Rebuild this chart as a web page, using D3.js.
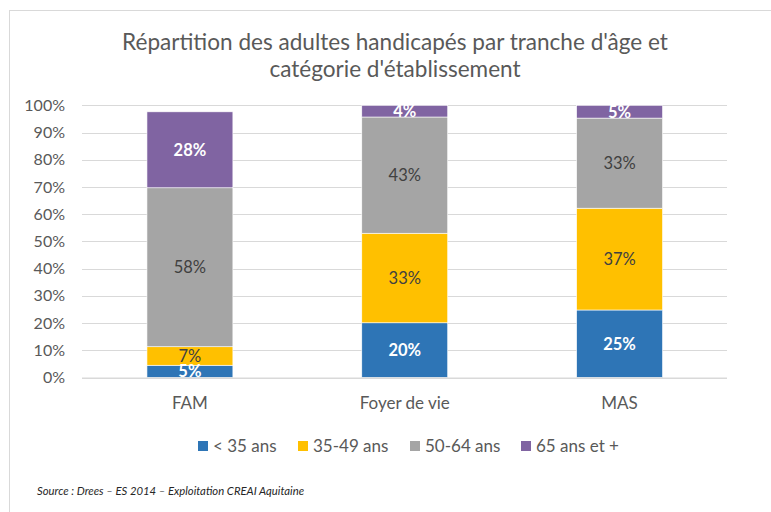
<!DOCTYPE html>
<html><head><meta charset="utf-8">
<script src="https://cdn.jsdelivr.net/npm/d3@7"></script>
<style>body{margin:0;background:#fff}svg{display:block}text{font-family:Lato,"Open Sans",sans-serif}</style>
</head><body>
<svg id="c" width="771" height="512"></svg>
<script>
const categories = ["FAM", "Foyer de vie", "MAS"];
const seriesNames = ["< 35 ans", "35-49 ans", "50-64 ans", "65 ans et +"];
const under35 = [4.5, 20.1, 24.8];
const age35_49 = [6.8, 32.9, 37.4];
const age50_64 = [58.4, 42.7, 33.1];
const over65 = [27.9, 4.3, 4.7];
const yTicks = [0, 10, 20, 30, 40, 50, 60, 70, 80, 90, 100];
const colors = ["#2e75b6", "#ffc000", "#a5a5a5", "#8064a2"];
const labelColors = ["#ffffff", "#404040", "#404040", "#ffffff"];
const labelWeights = ["bold", "normal", "normal", "bold"];
const titleLines = ["Répartition des adultes handicapés par tranche d'âge et", "catégorie d'établissement"];
const source = "Source : Drees – ES 2014 – Exploitation CREAI Aquitaine";

const series = [under35, age35_49, age50_64, over65];
const table = categories.map((c, i) => {
  const o = {cat: c};
  seriesNames.forEach((s, j) => o[s] = series[j][i]);
  return o;
});
const stacked = d3.stack().keys(seriesNames)(table);

const svg = d3.select("#c");
svg.append("rect").attr("x", 9.5).attr("y", 10.5).attr("width", 780).attr("height", 520)
  .attr("fill", "none").attr("stroke", "#d9d9d9").attr("stroke-width", 1);

function fit(sel, w) {
  const n = sel.node();
  let fs = parseFloat(sel.attr("font-size"));
  const cur = n.getComputedTextLength();
  sel.attr("font-size", (fs * w / cur).toFixed(2));
}

const t1 = svg.append("text").attr("x", 395).attr("y", 50).attr("text-anchor", "middle")
  .attr("font-size", 21).attr("fill", "#595959").text(titleLines[0]);
fit(t1, 546);
const t2 = svg.append("text").attr("x", 395).attr("y", 77).attr("text-anchor", "middle")
  .attr("font-size", t1.attr("font-size")).attr("fill", "#595959").text(titleLines[1]);

const x = d3.scaleBand().domain(categories).range([82.5, 727]).paddingInner(0.6).paddingOuter(0.3);
const y = d3.scaleLinear().domain([0, 100]).range([377.5, 105.3]);

svg.append("g").selectAll("line").data(yTicks).join("line")
  .attr("x1", 82).attr("x2", 727)
  .attr("y1", d => Math.round(y(d)) + 0.5).attr("y2", d => Math.round(y(d)) + 0.5)
  .attr("stroke", "#d9d9d9").attr("stroke-width", 1);

const yAxis = svg.append("g").attr("transform", "translate(65,0)")
  .call(d3.axisLeft(y).tickValues(yTicks).tickFormat(d => d + "%").tickSize(0).tickPadding(0));
yAxis.select(".domain").remove();
yAxis.selectAll("text").attr("font-size", 16).attr("fill", "#595959")
  .attr("font-family", "Lato, 'Open Sans', sans-serif");

const g = svg.append("g");
stacked.forEach((layer, j) => {
  g.append("g").selectAll("rect").data(layer).join("rect")
    .attr("x", d => x(d.data.cat))
    .attr("width", x.bandwidth())
    .attr("y", d => y(d[1]))
    .attr("height", d => y(d[0]) - y(d[1]))
    .attr("fill", colors[j])
    .attr("stroke", "#ffffff").attr("stroke-width", 0.6);
});
stacked.forEach((layer, j) => {
  g.append("g").selectAll("text").data(layer).join("text")
    .attr("x", d => x(d.data.cat) + x.bandwidth() / 2)
    .attr("y", d => (y(d[0]) + y(d[1])) / 2)
    .attr("dy", "0.36em")
    .attr("text-anchor", "middle")
    .attr("font-size", 16.5)
    .attr("font-weight", labelWeights[j])
    .attr("fill", labelColors[j])
    .text(d => Math.round(d[1] - d[0]) + "%");
});

const xAxis = svg.append("g").attr("transform", "translate(0,377.5)")
  .call(d3.axisBottom(x).tickSize(0).tickPadding(19));
xAxis.select(".domain").attr("stroke", "#d9d9d9").attr("d", "M82,0.5H727");
xAxis.selectAll("text").attr("font-size", 17).attr("fill", "#595959")
  .attr("font-family", "Lato, 'Open Sans', sans-serif");

const legendX = [198, 298, 410, 521];
const lg = svg.append("g");
seriesNames.forEach((s, j) => {
  lg.append("rect").attr("x", legendX[j]).attr("y", 441).attr("width", 10).attr("height", 10).attr("fill", colors[j]);
  lg.append("text").attr("x", legendX[j] + 15).attr("y", 446).attr("dy", "0.36em")
    .attr("font-size", 17).attr("fill", "#595959").text(s);
});

svg.append("text").attr("x", 37).attr("y", 495).attr("font-size", 11.3).attr("font-style", "italic")
  .attr("fill", "#262626").text(source);
</script>
</body></html>
